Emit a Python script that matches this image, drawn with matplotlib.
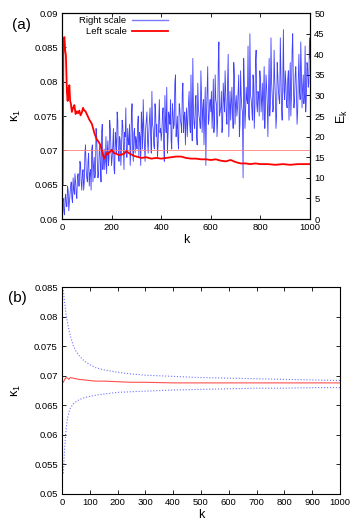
import numpy as np
import matplotlib
matplotlib.use("Agg")
import matplotlib.pyplot as plt
from matplotlib.lines import Line2D

plt.rcParams['font.family'] = ['Liberation Sans', 'DejaVu Sans']
plt.rcParams['mathtext.fontset'] = 'custom'
plt.rcParams['mathtext.rm'] = 'Liberation Sans'
plt.rcParams['mathtext.it'] = 'Liberation Sans'

# ---------------- Panel (a) data ----------------
# Right scale: E_k read every 5 steps, k = 0..1000
ek_k = list(range(0, 1001, 5))
ek_values = [
    2, 5, 1, 6, 3, 7, 4, 8, 5, 10, 6, 9, 5, 11, 8, 13, 7, 12, 9, 18, 10,
    14, 8, 12, 17, 9, 15, 11, 20, 10, 16, 13, 21, 12, 17, 14, 11, 19, 15, 22, 13,
    18, 12, 21, 16, 24, 14, 19, 17, 23, 12, 20, 15, 22, 18, 13, 25, 17, 21, 16, 19,
    23, 15, 20, 26, 17, 22, 14, 24, 19, 21, 27, 16, 23, 18, 28, 20, 15, 24, 21, 19,
    25, 18, 30, 21, 16, 26, 23, 19, 28, 22, 33, 20, 25, 17, 27, 23, 31, 21, 26, 24,
    20, 28, 23, 35, 19, 26, 22, 30, 18, 27, 24, 36, 21, 29, 25, 13, 31, 23, 28, 26,
    22, 34, 24, 29, 20, 38, 25, 27, 21, 33, 26, 30, 23, 40, 27, 24, 32, 22, 35, 28,
    25, 31, 20, 36, 27, 10, 33, 26, 29, 42, 24, 30, 27, 35, 22, 38, 28, 31, 25, 34,
    29, 24, 37, 27, 32, 20, 39, 28, 33, 26, 41, 30, 25, 35, 29, 44, 27, 33, 31, 36,
    28, 34, 24, 38, 30, 45, 27, 35, 31, 26, 40, 29, 36, 32, 28, 42, 30, 37, 33, 39,
]
# E_k read at the intermediate steps k = 2.5, 7.5, ..., 997.5
ek_k_mid = [2.5 + 5 * i for i in range(200)]
ek_values_mid = [
    4, 2, 5, 3, 8, 2, 6, 9, 4, 7, 11, 6, 10, 8, 14, 9, 11, 7, 16, 12,
    9, 16, 11, 7, 18, 13, 10, 22, 14, 11, 18, 9, 23, 15, 12, 20, 16, 13, 24, 17,
    15, 22, 11, 19, 26, 16, 20, 13, 24, 18, 21, 27, 15, 19, 23, 17, 28, 14, 22, 20,
    17, 25, 21, 13, 23, 29, 18, 22, 26, 16, 24, 20, 31, 22, 17, 26, 23, 18, 29, 22,
    21, 27, 14, 24, 32, 20, 25, 29, 17, 26, 23, 35, 22, 19, 28, 24, 21, 33, 25, 18,
    27, 24, 31, 21, 25, 39, 23, 28, 20, 33, 25, 22, 30, 27, 18, 32, 26, 37, 24, 29,
    31, 26, 21, 35, 28, 24, 43, 26, 31, 23, 29, 36, 25, 33, 20, 31, 28, 26, 38, 23,
    30, 27, 35, 23, 30, 26, 39, 22, 32, 28, 25, 45, 29, 24, 33, 27, 41, 26, 30, 36,
    26, 33, 30, 22, 35, 28, 31, 25, 44, 30, 27, 34, 22, 38, 31, 28, 35, 24, 46, 29,
    33, 27, 36, 31, 25, 41, 33, 29, 37, 23, 34, 31, 43, 27, 35, 30, 26, 38, 32, 44,
]

# Left scale: kappa_1 running estimate
kappa_k = [0, 3, 6, 10, 13, 16, 20, 23, 26, 30, 33, 36, 40, 45, 50, 55, 60, 65, 70,
           75, 80, 85, 90, 95, 100, 105, 110, 115, 120, 125, 130, 135, 140, 145, 150,
           155, 160, 165, 170, 175, 180, 185, 190, 195, 200, 210, 220, 230, 240, 250,
           260, 270, 280, 290, 300, 320, 340, 360, 380, 400, 420, 440, 460, 480, 500,
           520, 540, 560, 580, 600, 620, 640, 660, 680, 700, 720, 740, 760, 780, 800,
           830, 860, 890, 920, 950, 980, 1000]
kappa_values = [0.0648, 0.0650, 0.0862, 0.0865, 0.0846, 0.0838, 0.0785, 0.0772, 0.0790,
                0.0795, 0.0772, 0.0768, 0.0756, 0.0762, 0.0766, 0.0753, 0.0757, 0.0754,
                0.0758, 0.0751, 0.0755, 0.0762, 0.0758, 0.0757, 0.0753, 0.0749, 0.0745,
                0.0742, 0.0739, 0.0733, 0.0726, 0.0721, 0.0716, 0.0714, 0.0711, 0.0708,
                0.0701, 0.0694, 0.0688, 0.0692, 0.0696, 0.0694, 0.0697, 0.0698, 0.0701,
                0.0696, 0.0695, 0.0693, 0.0694, 0.0695, 0.0699, 0.0696, 0.0694, 0.0692,
                0.0691, 0.0689, 0.0690, 0.0688, 0.0689, 0.0688, 0.0689, 0.0690, 0.0691,
                0.0691, 0.0689, 0.0688, 0.0688, 0.0687, 0.0687, 0.0686, 0.0687, 0.0685,
                0.0684, 0.0686, 0.0683, 0.0681, 0.0681, 0.0680, 0.0681, 0.0680, 0.0680,
                0.0679, 0.0680, 0.0679, 0.0680, 0.0680, 0.0680]
kappa_ref = 0.07

# ---------------- Panel (b) data ----------------
b_k = [5, 10, 15, 20, 25, 30, 40, 50, 60, 80, 100, 120, 150, 200, 250, 300, 400,
       500, 600, 700, 800, 900, 1000]
b_mean = [0.0689, 0.0694, 0.0697, 0.0696, 0.0694, 0.0697, 0.0696, 0.0695, 0.0694,
          0.0693, 0.0692, 0.0691, 0.0691, 0.0690, 0.0689, 0.0689, 0.0688, 0.0688,
          0.0688, 0.0688, 0.0688, 0.0688, 0.0688]
b_upper = [0.0845, 0.0822, 0.0803, 0.0790, 0.0778, 0.0768, 0.0752, 0.0742, 0.0735,
           0.0725, 0.0719, 0.0714, 0.0710, 0.0706, 0.0703, 0.0701, 0.0699, 0.0697,
           0.0696, 0.0695, 0.0694, 0.0693, 0.0692]
b_lower = [0.0535, 0.0580, 0.0610, 0.0628, 0.0638, 0.0645, 0.0652, 0.0656, 0.0659,
           0.0663, 0.0665, 0.0667, 0.0669, 0.0672, 0.0673, 0.0674, 0.0676, 0.0677,
           0.0678, 0.0679, 0.0679, 0.0680, 0.0680]

FS = 6.8
LFS = 9

# merge the two readings of E_k in k order
pairs = sorted(zip(ek_k + ek_k_mid, ek_values + ek_values_mid))
ek_all_k = [p[0] for p in pairs]
ek_all_v = [p[1] for p in pairs]

fig = plt.figure(figsize=(3.56, 5.24), dpi=100)

# ---------- (a) ----------
ax = fig.add_axes([0.174, 0.582, 0.871 - 0.174, 0.975 - 0.582])
ax2 = ax.twinx()
ax.set_zorder(ax2.get_zorder() + 1)
ax.patch.set_visible(False)

ax2.plot(ek_all_k, ek_all_v, color='#0000ff', lw=0.6, alpha=0.75)
ax.axhline(kappa_ref, color='#ff8080', lw=0.6)
ax.plot(kappa_k, kappa_values, color='#ff0000', lw=1.3)

ax.set_xlim(0, 1000)
ax.set_ylim(0.06, 0.09)
ax2.set_ylim(0, 50)
ax.set_xticks(range(0, 1001, 200))
ax.set_yticks([0.06, 0.065, 0.07, 0.075, 0.08, 0.085, 0.09])
ax.set_yticklabels(['0.06', '0.065', '0.07', '0.075', '0.08', '0.085', '0.09'])
ax2.set_yticks(range(0, 51, 5))
ax.tick_params(direction='in', labelsize=FS, top=True, right=False, length=3, width=0.6, pad=3)
ax2.tick_params(direction='in', labelsize=FS, length=3, width=0.6, pad=3)
ax.set_xlabel('k', fontsize=LFS, labelpad=1)
ax.set_ylabel(r'$\kappa_1$', fontsize=LFS, labelpad=8)
ax2.set_ylabel(r'$\mathrm{E_k}$', fontsize=LFS, labelpad=7)
for a in (ax, ax2):
    for s in a.spines.values():
        s.set_linewidth(0.8)
handles = [Line2D([], [], color='#7a7aff', lw=1.0), Line2D([], [], color='#ff0000', lw=1.3)]
leg = ax.legend(handles=handles, labels=['Right scale', 'Left scale'], loc='upper right',
                frameon=False, markerfirst=False, fontsize=FS, handlelength=3.8,
                borderaxespad=0, borderpad=0, labelspacing=0.2, handletextpad=0.6,
                bbox_to_anchor=(168 / 356, 1 - 16 / 524), bbox_transform=fig.transFigure)
fig.text(0.033, 0.953, '(a)', fontsize=11, va='center')

# ---------- (b) ----------
bx = fig.add_axes([0.174, 0.0573, 0.955 - 0.174, 0.452 - 0.0573])
bx.plot(b_k, b_upper, color='#7070ff', lw=0.8, ls=':')
bx.plot(b_k, b_lower, color='#7070ff', lw=0.8, ls=':')
bx.plot(b_k, b_mean, color='#ff5050', lw=0.8)
bx.set_xlim(0, 1000)
bx.set_ylim(0.05, 0.085)
bx.set_xticks(range(0, 1001, 100))
bx.set_yticks([0.05, 0.055, 0.06, 0.065, 0.07, 0.075, 0.08, 0.085])
bx.set_yticklabels(['0.05', '0.055', '0.06', '0.065', '0.07', '0.075', '0.08', '0.085'])
bx.tick_params(direction='in', labelsize=FS, top=True, right=True, length=3, width=0.6, pad=3)
bx.set_xlabel('k', fontsize=LFS, labelpad=1)
bx.set_ylabel(r'$\kappa_1$', fontsize=LFS, labelpad=8)
for s in bx.spines.values():
    s.set_linewidth(0.8)
fig.text(0.022, 0.432, '(b)', fontsize=11, va='center')

fig.savefig('out.png', dpi=100)
